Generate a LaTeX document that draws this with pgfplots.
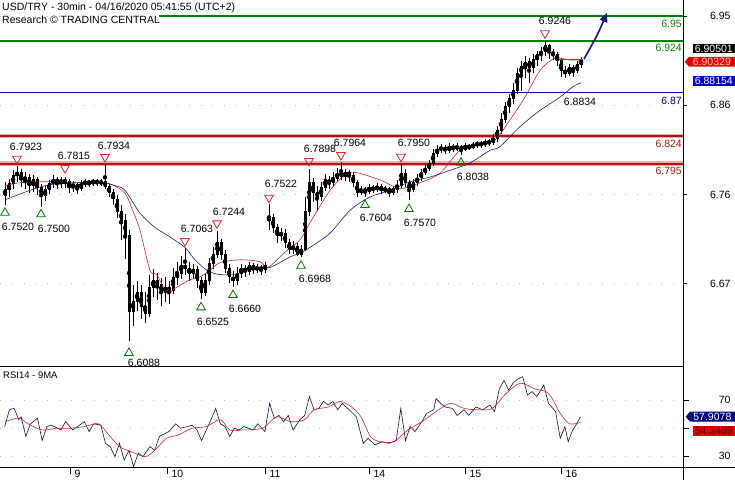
\documentclass[border=0pt]{standalone}
\usepackage{fontspec}
\setmainfont{Liberation Sans}
\usepackage{pgfplots}
\pgfplotsset{compat=1.18}
\usepackage{pgfplotstable}
\usetikzlibrary{arrows.meta,shapes.symbols}

\definecolor{lvgreen}{RGB}{0,128,0}
\definecolor{lvblue}{RGB}{0,0,190}
\definecolor{lvnavy}{RGB}{0,0,128}
\definecolor{lvred}{RGB}{170,20,20}
\definecolor{lvpink}{RGB}{250,170,170}
\definecolor{mared}{RGB}{200,40,40}
\definecolor{manavy}{RGB}{30,30,130}
\definecolor{arrownavy}{RGB}{15,25,120}
\definecolor{trired}{RGB}{215,40,40}
\definecolor{trigreen}{RGB}{0,120,0}
\definecolor{rsiline}{RGB}{15,15,70}

% 30 min candles, sampled: x o h l c
\pgfplotstableread{
x o h l c
5 6.762 6.776 6.7520 6.768
9 6.768 6.779 6.760 6.774
13 6.774 6.788 6.768 6.783
17 6.783 6.7923 6.776 6.786
21 6.786 6.789 6.770 6.778
25 6.778 6.786 6.768 6.781
29 6.781 6.784 6.764 6.772
33 6.772 6.783 6.765 6.779
37 6.779 6.781 6.762 6.770
41 6.770 6.774 6.7500 6.762
45 6.762 6.772 6.756 6.768
49 6.768 6.778 6.763 6.774
53 6.774 6.783 6.769 6.779
57 6.779 6.781 6.768 6.775
61 6.775 6.781 6.770 6.778
65 6.778 6.7815 6.770 6.776
69 6.776 6.779 6.764 6.771
73 6.771 6.777 6.765 6.773
77 6.773 6.775 6.763 6.769
81 6.769 6.778 6.766 6.774
85 6.774 6.779 6.771 6.776
89 6.776 6.778 6.771 6.775
93 6.775 6.779 6.772 6.777
97 6.777 6.779 6.772 6.775
101 6.775 6.779 6.772 6.776
105 6.776 6.7934 6.768 6.771
109 6.771 6.774 6.760 6.765
113 6.765 6.768 6.752 6.758
117 6.758 6.762 6.738 6.745
121 6.745 6.752 6.715 6.735
125 6.735 6.742 6.695 6.720
129 6.720 6.725 6.6088 6.640
133 6.640 6.668 6.625 6.650
137 6.650 6.672 6.640 6.660
141 6.660 6.668 6.632 6.645
145 6.645 6.660 6.628 6.638
149 6.638 6.678 6.634 6.665
153 6.665 6.684 6.655 6.672
157 6.672 6.680 6.652 6.668
161 6.668 6.675 6.645 6.660
165 6.660 6.676 6.650 6.665
169 6.665 6.672 6.648 6.662
173 6.662 6.685 6.658 6.675
177 6.675 6.692 6.668 6.680
181 6.680 6.698 6.674 6.688
185 6.688 6.7063 6.678 6.685
189 6.685 6.692 6.672 6.680
193 6.680 6.690 6.674 6.684
197 6.684 6.688 6.664 6.672
201 6.672 6.676 6.6525 6.660
205 6.660 6.680 6.656 6.672
209 6.672 6.696 6.668 6.690
213 6.690 6.708 6.684 6.700
217 6.700 6.7244 6.696 6.712
221 6.712 6.716 6.694 6.700
225 6.700 6.704 6.680 6.685
229 6.685 6.690 6.670 6.676
233 6.676 6.682 6.6660 6.672
237 6.672 6.686 6.668 6.680
241 6.680 6.690 6.675 6.685
245 6.685 6.689 6.676 6.682
249 6.682 6.692 6.678 6.688
253 6.688 6.691 6.679 6.684
257 6.684 6.690 6.680 6.686
261 6.686 6.689 6.678 6.684
265 6.684 6.692 6.680 6.688
269 6.735 6.7522 6.725 6.738
273 6.738 6.742 6.722 6.728
277 6.728 6.732 6.712 6.720
281 6.720 6.728 6.714 6.722
285 6.722 6.726 6.706 6.712
289 6.712 6.716 6.700 6.705
293 6.705 6.714 6.700 6.708
297 6.708 6.712 6.698 6.700
301 6.700 6.710 6.6968 6.705
305 6.705 6.760 6.703 6.745
309 6.745 6.7898 6.740 6.775
313 6.775 6.780 6.755 6.765
317 6.765 6.772 6.745 6.760
321 6.760 6.776 6.756 6.770
325 6.770 6.784 6.766 6.778
329 6.778 6.782 6.768 6.775
333 6.775 6.786 6.772 6.780
337 6.780 6.790 6.776 6.785
341 6.785 6.7964 6.778 6.782
345 6.782 6.790 6.777 6.786
349 6.786 6.789 6.776 6.783
353 6.783 6.786 6.770 6.775
357 6.775 6.778 6.760 6.765
361 6.765 6.772 6.762 6.768
365 6.768 6.771 6.7604 6.766
369 6.766 6.774 6.763 6.770
373 6.770 6.773 6.764 6.768
377 6.768 6.775 6.765 6.771
381 6.771 6.774 6.763 6.767
385 6.767 6.772 6.764 6.769
389 6.769 6.771 6.760 6.765
393 6.765 6.772 6.762 6.768
397 6.768 6.778 6.764 6.772
401 6.772 6.7950 6.770 6.785
405 6.785 6.789 6.770 6.775
409 6.775 6.778 6.7570 6.768
413 6.768 6.779 6.765 6.775
417 6.775 6.784 6.772 6.780
421 6.780 6.790 6.777 6.786
425 6.786 6.794 6.783 6.790
429 6.790 6.799 6.787 6.795
433 6.795 6.810 6.793 6.806
437 6.806 6.815 6.802 6.810
441 6.810 6.816 6.806 6.812
445 6.812 6.815 6.805 6.809
449 6.809 6.817 6.806 6.813
453 6.813 6.816 6.807 6.811
457 6.811 6.817 6.808 6.813
461 6.813 6.815 6.8038 6.810
465 6.810 6.817 6.808 6.814
469 6.814 6.816 6.809 6.812
473 6.812 6.818 6.810 6.815
477 6.815 6.819 6.812 6.816
481 6.816 6.819 6.812 6.815
485 6.815 6.821 6.813 6.818
489 6.818 6.821 6.814 6.817
493 6.817 6.826 6.815 6.822
497 6.822 6.835 6.818 6.830
501 6.830 6.848 6.826 6.842
505 6.842 6.860 6.838 6.855
509 6.855 6.868 6.848 6.864
513 6.864 6.880 6.858 6.872
517 6.872 6.896 6.868 6.890
521 6.890 6.903 6.872 6.897
525 6.897 6.908 6.885 6.902
529 6.902 6.906 6.880 6.896
533 6.896 6.910 6.890 6.905
537 6.905 6.914 6.898 6.910
541 6.910 6.918 6.903 6.913
545 6.913 6.9246 6.908 6.919
549 6.919 6.921 6.905 6.912
553 6.912 6.916 6.904 6.910
557 6.910 6.913 6.898 6.904
561 6.904 6.906 6.886 6.893
565 6.893 6.898 6.885 6.890
569 6.890 6.900 6.887 6.896
573 6.896 6.899 6.886 6.893
577 6.893 6.903 6.890 6.899
581 6.899 6.907 6.896 6.905
}\candles

\pgfplotstableread{
x v
5 6.772
20 6.775
40 6.776
60 6.776
80 6.775
100 6.775
112 6.773
125 6.764
133 6.745
140 6.725
150 6.683
157 6.678
167 6.659
175 6.664
190 6.673
200 6.676
210 6.683
220 6.691
240 6.694
260 6.692
268 6.686
285 6.702
300 6.715
310 6.733
330 6.767
345 6.783
355 6.786
380 6.778
400 6.769
420 6.775
440 6.785
460 6.809
480 6.817
495 6.820
510 6.841
525 6.865
540 6.893
555 6.906
570 6.904
581 6.904
}\mafast

\pgfplotstableread{
x v
5 6.757
30 6.767
50 6.773
80 6.775
100 6.776
115 6.772
125 6.767
140 6.743
155 6.728
170 6.718
185 6.707
195 6.694
210 6.681
230 6.678
250 6.683
270 6.686
290 6.697
300 6.701
310 6.707
330 6.722
350 6.746
370 6.760
390 6.767
410 6.776
430 6.781
450 6.788
470 6.796
490 6.809
500 6.813
520 6.834
540 6.851
560 6.865
573 6.876
581 6.880
}\maslow

\pgfplotstableread{
x r
4.7 51
9.4 63
14.1 64
18.8 56
21.1 58
25.8 44
30.5 53
37.5 57
42.2 41
46.9 51
51.6 52
60.9 48.6
65.6 54.5
72.7 48.6
84.4 54.5
89.1 47.4
93.8 53
100.8 52
105.5 39
110.2 36.7
114.9 29.5
119.5 39
124.2 27
128.9 34
133.6 22.4
138.3 32
143.0 29.5
150.0 36.7
154.7 34
159.4 44
168.8 47.4
175.8 53
180.5 49.8
187.5 51
192.2 52
196.9 48.6
201.6 41
206.3 48.6
211.0 56
215.7 64
220.3 53
225.0 51
229.7 44
234.4 49.8
239.1 48.6
243.8 51
253.2 48.6
257.9 53
264.9 47.4
269.6 67.6
274.3 57
279.0 59
283.6 54.5
288.3 59
293.0 48.6
300.0 56
304.7 59
309.4 72.4
314.1 63
318.8 64
323.5 69
328.2 66.4
332.9 69
337.6 63
342.2 67.6
349.3 63
356.3 58
363.3 39
368.0 42.6
375.1 37.9
382.1 40.2
389.1 39
396.2 41
400.8 64
405.5 41
410.2 51
414.9 47.4
421.9 54.5
426.6 60.5
433.7 63
436.0 71
440.7 67.6
445.4 65
452.4 64
457.1 59
464.1 63
468.8 59
475.9 65
482.9 63
489.9 66.4
494.6 61.7
499.3 78
504.0 84
508.7 77
513.4 82.5
518.0 85
522.7 86.7
527.4 73.6
532.1 76
536.8 72.4
543.8 80.7
548.5 67.6
555.6 61.7
560.2 42.6
564.9 51
568.2 40.2
572.0 47.4
576.6 53
580.4 57.9
}\rsi

\pgfplotstableread{
x r
4.7 54.5
18.8 57
28.1 53
42.2 48.6
56.3 49.8
70.3 49.8
84.4 51
98.5 53
107.8 46
119.5 36.7
131.3 33
145.3 29.5
154.7 34
166.4 42.6
178.2 45
192.2 49.8
206.3 51
220.3 56
229.7 48.6
243.8 48.6
262.5 49.8
276.6 58
290.7 54.5
304.7 56
314.1 63
328.2 65
339.9 69
351.6 65
361.0 58
370.4 44
379.7 40.2
393.8 40.2
407.9 48.6
421.9 54.5
436.0 61.7
450.1 67.6
464.1 64
478.2 63
492.3 64
506.3 74.8
520.4 82
534.5 78
548.5 74.8
560.2 60.5
569.6 53
580.4 54
}\rsima

\begin{document}
\begin{tikzpicture}[font=\fontsize{10.5}{12}\selectfont]
\begin{axis}[
    at={(0pt,0pt)}, anchor=north west,
    scale only axis, width=683pt, height=366.7pt,
    xmin=0, xmax=683, ymin=6.5816, ymax=6.9671,
    axis x line*=bottom, axis y line*=right,
    axis line style={black, line width=0.8pt},
    xtick=\empty,
    ytick={6.95,6.8564,6.7627,6.669},
    yticklabels={6.95,6.86,6.76,6.67},
    tick align=outside, major tick length=4pt,
    tick style={black, line width=0.6pt},
    yticklabel style={anchor=east, xshift=47pt},
    ymajorgrids,
    grid style={gray!55, line width=0.8pt, dash pattern=on 0.8pt off 11pt},
    clip=false,
]
% levels
\addplot[lvgreen, line width=1.6pt] coordinates {(159,6.95) (683,6.95)};
\addplot[lvgreen, line width=1.6pt] coordinates {(0,6.924) (683,6.924)};
\addplot[lvblue, line width=1.6pt] coordinates {(0,6.87) (683,6.87)};
\addplot[lvpink, line width=4.5pt] coordinates {(0,6.824) (683,6.824)};
\addplot[lvred, line width=1.8pt] coordinates {(0,6.824) (683,6.824)};
\addplot[lvpink, line width=4.5pt] coordinates {(0,6.795) (683,6.795)};
\addplot[lvred, line width=1.8pt] coordinates {(0,6.795) (683,6.795)};

% candles: wicks, then bodies
\addplot[black, only marks, mark=none,
    error bars/.cd, y dir=both, y explicit, error mark=none,
    error bar style={black, line width=0.9pt}]
    table[x=x, y expr={(\thisrow{h}+\thisrow{l})/2},
          y error expr={(\thisrow{h}-\thisrow{l})/2}] {\candles};
\addplot[black, only marks, mark=none,
    error bars/.cd, y dir=both, y explicit, error mark=none,
    error bar style={black, line width=3pt}]
    table[x=x, y expr={(\thisrow{o}+\thisrow{c})/2},
          y error expr={abs(\thisrow{c}-\thisrow{o})/2+0.0005}] {\candles};

% moving averages
\addplot[mared, line width=0.6pt, smooth] table[x=x, y=v] {\mafast};
\addplot[manavy, line width=0.6pt, smooth] table[x=x, y=v] {\maslow};
\addplot[mared, line width=0.7pt] coordinates {(557,6.9043) (583,6.9043)};

% forecast arrow
\addplot[arrownavy, line width=1.6pt, smooth, -{Triangle[length=9pt,width=8pt]}]
    coordinates {(584,6.9051) (597,6.9300) (607,6.9535)};

% turning points
\addplot[only marks, mark=triangle, mark size=5pt, trired,
    mark options={rotate=180, line width=0.8pt}] coordinates {
    (17,6.8002) (65,6.7904) (105,6.8020) (185,6.7137) (217,6.7323)
    (269,6.7592) (309,6.7978) (341,6.8041) (401,6.8023) (545,6.9321)};
\addplot[only marks, mark=triangle, mark size=5pt, trigreen,
    mark options={line width=0.8pt}] coordinates {
    (5,6.7434) (41,6.7418) (129,6.5961) (201,6.6440) (233,6.6569)
    (301,6.6877) (365,6.7515) (409,6.7473) (461,6.7960)};
\addplot[only marks, mark=none, nodes near coords,
    point meta=explicit symbolic,
    every node near coord/.style={anchor=center, black, inner sep=0pt}]
    coordinates {
    (26,6.8129) [6.7923] (74,6.8034) [6.7815] (114,6.8139) [6.7934]
    (197,6.7270) [6.7063] (229,6.7445) [6.7244] (281,6.7733) [6.7522]
    (320,6.8107) [6.7898] (350,6.8170) [6.7964] (414,6.8164) [6.7950]
    (555,6.9453) [6.9246]
    (18,6.7287) [6.7520] (54,6.7263) [6.7500] (144,6.5861) [6.6088]
    (213,6.6288) [6.6525] (245,6.6429) [6.6660] (315,6.6734) [6.6968]
    (376,6.7376) [6.7604] (420,6.7329) [6.7570] (473,6.7807) [6.8038]
    (580,6.8602) [6.8834]};

% level captions
\node[anchor=east, text=lvgreen, inner sep=0pt] at (axis cs:682,6.9419) {6.95};
\node[anchor=east, text=lvgreen, inner sep=0pt] at (axis cs:682,6.9166) {6.924};
\node[anchor=east, text=lvnavy, inner sep=0pt] at (axis cs:682,6.8609) {6.87};
\node[anchor=east, text=lvred, inner sep=0pt] at (axis cs:682,6.8157) {6.824};
\node[anchor=east, text=lvred, inner sep=0pt] at (axis cs:682,6.7873) {6.795};

% price boxes
\node[anchor=east, fill=black, text=white, inner sep=1.2pt, minimum width=42pt]
    at (axis cs:735,6.9161) {6.90501};
\node[anchor=east, signal, signal to=west, signal pointer angle=100,
    fill=red!90!black, text=red!20, inner sep=1.2pt, minimum width=50pt]
    at (axis cs:735,6.9022) {6.90329};
\node[anchor=east, fill=lvblue, text=white, inner sep=1.2pt, minimum width=42pt]
    at (axis cs:735,6.8819) {6.88154};

% header
\node[anchor=west, inner sep=0pt] at (axis cs:2,6.9594) {USD/TRY - 30min - 04/16/2020 05:41:55 (UTC+2)};
\node[anchor=west, inner sep=0pt] at (axis cs:2,6.9461) {Research © TRADING CENTRAL};
\end{axis}

\begin{axis}[
    at={(0pt,-366.7pt)}, anchor=north west,
    scale only axis, width=683pt, height=101pt,
    xmin=0, xmax=683, ymin=21.6, ymax=93.8,
    axis x line*=bottom, axis y line*=right,
    axis line style={black, line width=0.8pt},
    xtick={70,167,265,369,465,561},
    xticklabels={9,10,11,14,15,16},
    ytick={30,50,70},
    yticklabels={30,,70},
    tick align=outside, major tick length=6pt,
    tick style={black, line width=0.6pt},
    yticklabel style={anchor=east, xshift=45pt},
    xticklabel style={anchor=north west, xshift=1pt, yshift=7pt},
    ymajorgrids,
    grid style={gray!55, line width=0.8pt, dash pattern=on 0.8pt off 11pt},
    clip=false,
]
\addplot[rsiline, line width=0.6pt] table[x=x, y=r] {\rsi};
\addplot[mared, line width=0.6pt, smooth] table[x=x, y=r] {\rsima};
\node[anchor=west, inner sep=0pt, font=\fontsize{9.5}{11}\selectfont] at (axis cs:3,87.4) {RSI14 - 9MA};
\node[anchor=east, signal, signal to=west, signal pointer angle=100,
    fill=lvnavy, text=white, inner sep=1.2pt, minimum width=49pt]
    at (axis cs:735,58.1) {57.9078};
\node[anchor=east, fill=red!90!black, text=red!25!black, inner sep=1.2pt, minimum width=42pt]
    at (axis cs:735,48.1) {54.3469};
\end{axis}
\draw[line width=0.8pt] (683pt,-467.7pt) -- (735pt,-467.7pt);
\draw[line width=0.8pt] (683pt,-467.7pt) -- (683pt,-480pt);
\pgfresetboundingbox
\useasboundingbox (0pt,0pt) rectangle (735pt,-480pt);
\end{tikzpicture}
\end{document}
